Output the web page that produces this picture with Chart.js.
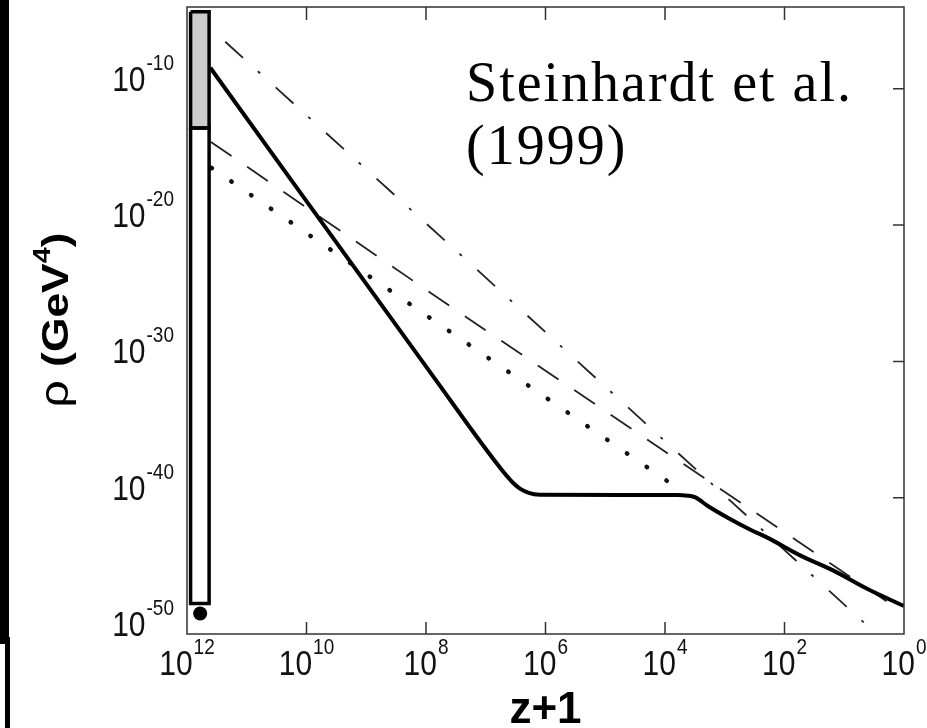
<!DOCTYPE html>
<html lang="en">
<head>
  <meta charset="UTF-8">
  <title>Energy density vs z+1</title>
  <script src="https://cdn.jsdelivr.net/npm/chart.js"></script>
  <style>
    body { margin: 0; background: #fff; }
    .wrap { position: relative; width: 927px; height: 728px; }
    /* black strips on the left edge of the scan */
    .edge1 { position: absolute; left: 0; top: 0; width: 9px; height: 644px; background: #000; }
    .edge2 { position: absolute; left: 5px; top: 637px; width: 5px; height: 91px; background: #000; }
  </style>
</head>
<body>
<div class="wrap">
  <canvas id="rho" width="927" height="728"></canvas>
  <div class="edge1"></div>
  <div class="edge2"></div>
</div>

<script>
  // ---- data, as log10 values: [log10(z+1), log10(rho)]
  const tracker = [
    [11.61, -8.46], [7.88, -31.1], [6.76, -37.8], [6.54, -38.92], [6.42, -39.35],
    [6.28, -39.65], [6.1, -39.78], [3.8, -39.8], [3.62, -39.85], [3.49, -39.98],
    [3.29, -40.59], [2.95, -41.47], [2.57, -42.35], [2.28, -42.95], [1.73, -44.25],
    [1.18, -45.35], [0.61, -46.7], [0, -47.95]
  ];
  const matterLine = [[11.6, -13.9], [7.68, -25.7], [0.09, -48.2]];      // dashed
  const radiationLine = [[11.36, -6.55], [7.54, -21.7], [0.61, -49.4]];  // dash-dot
  const dottedLine = [[11.59, -15.8], [6.84, -30.1], [3.69, -39.6]];     // dotted

  // initial-condition bar on the left edge
  const barX = [11.94, 11.63];
  const barGrayY = [-4.35, -12.87];
  const barWhiteY = [-12.87, -47.77];
  const dotPoint = [[11.78, -48.5]];

  // axis ticks (exponents)
  const xTickExp = [12, 10, 8, 6, 4, 2, 0];
  const yTickExp = [-50, -40, -30, -20, -10];
  const xRange = [0, 12];
  const yRange = [-50, -4];

  const toPts = arr => arr.map(p => ({ x: Math.pow(10, p[0]), y: Math.pow(10, p[1]) }));
  const boxTop = (xs, ys) => [{ x: Math.pow(10, xs[0]), y: Math.pow(10, ys[0]) }, { x: Math.pow(10, xs[1]), y: Math.pow(10, ys[0]) }];
  const boxOutline = (xs, ys) => [
    { x: Math.pow(10, xs[0]), y: Math.pow(10, ys[0]) },
    { x: Math.pow(10, xs[1]), y: Math.pow(10, ys[0]) },
    { x: Math.pow(10, xs[1]), y: Math.pow(10, ys[1]) },
    { x: Math.pow(10, xs[0]), y: Math.pow(10, ys[1]) },
    { x: Math.pow(10, xs[0]), y: Math.pow(10, ys[0]) }
  ];

  const S = 1.15; // the scan is a bit stretched vertically

  function supLabel(ctx, x, y, base, exp, align, baseSize, expSize, rise) {
    ctx.font = baseSize + 'px "Liberation Sans", Arial, sans-serif';
    const wb = ctx.measureText(base).width;
    ctx.font = expSize + 'px "Liberation Sans", Arial, sans-serif';
    const we = ctx.measureText(exp).width;
    const total = wb + we + 1;
    let x0 = x;
    if (align === 'right') x0 = x - total;
    if (align === 'center') x0 = x - total / 2;
    ctx.save();
    ctx.translate(x0, y);
    ctx.scale(1, S);
    ctx.textAlign = 'left';
    ctx.textBaseline = 'alphabetic';
    ctx.font = baseSize + 'px "Liberation Sans", Arial, sans-serif';
    ctx.fillText(base, 0, 0);
    ctx.font = expSize + 'px "Liberation Sans", Arial, sans-serif';
    ctx.fillText(exp, wb + 1, -rise / S);
    ctx.restore();
  }

  const framePlugin = {
    id: 'frame',
    afterDraw(chart) {
      const ctx = chart.ctx;
      const a = chart.chartArea;
      const xs = chart.scales.x, ys = chart.scales.y;
      ctx.save();
      ctx.fillStyle = '#111';
      ctx.strokeStyle = '#333';
      ctx.lineWidth = 1.5;
      ctx.strokeRect(a.left, a.top, a.right - a.left, a.bottom - a.top);

      // inward ticks
      ctx.beginPath();
      xTickExp.forEach(e => {
        const px = xs.getPixelForValue(Math.pow(10, e));
        if (px <= a.left + 1 || px >= a.right - 1) return;
        ctx.moveTo(px, a.bottom); ctx.lineTo(px, a.bottom - 12);
        ctx.moveTo(px, a.top); ctx.lineTo(px, a.top + 13);
      });
      yTickExp.forEach(e => {
        const py = ys.getPixelForValue(Math.pow(10, e));
        if (py >= a.bottom - 1 || py <= a.top + 1) return;
        ctx.moveTo(a.right, py); ctx.lineTo(a.right - 11, py);
      });
      ctx.stroke();

      // tick labels
      xTickExp.forEach(e => {
        const px = xs.getPixelForValue(Math.pow(10, e));
        supLabel(ctx, px, 675, '10', String(e), 'center', 30, 19, 21);
      });
      yTickExp.forEach(e => {
        const py = ys.getPixelForValue(Math.pow(10, e));
        supLabel(ctx, 174, py + 2, '10', String(e), 'right', 30, 19, 21);
      });

      // axis titles
      ctx.fillStyle = '#000';
      ctx.textAlign = 'center';
      ctx.textBaseline = 'alphabetic';
      ctx.font = 'bold 44px "Liberation Sans", Arial, sans-serif';
      ctx.fillText('z+1', (a.left + a.right) / 2, 723);

      ctx.save();
      ctx.translate(68, 320);
      ctx.rotate(-Math.PI / 2);
      ctx.scale(1.2, 1);
      ctx.textAlign = 'left';
      const parts = [
        ['ρ ', '40px "Liberation Sans", Arial, sans-serif', 0],
        ['(GeV', 'bold 37px "Liberation Sans", Arial, sans-serif', 0],
        ['4', 'bold 24px "Liberation Sans", Arial, sans-serif', -18],
        [')', 'bold 37px "Liberation Sans", Arial, sans-serif', 0]
      ];
      let tot = 0;
      parts.forEach(p => { ctx.font = p[1]; tot += ctx.measureText(p[0]).width; });
      let cx = -tot / 2;
      parts.forEach(p => { ctx.font = p[1]; ctx.fillText(p[0], cx, p[2]); cx += ctx.measureText(p[0]).width; });
      ctx.restore();

      // annotation
      ctx.textAlign = 'left';
      ctx.font = '56px "Liberation Serif", "Times New Roman", serif';
      ctx.letterSpacing = '2px';
      ctx.fillText('Steinhardt et al.', 466, 101);
      ctx.fillText('(1999)', 466, 164);
      ctx.restore();
    }
  };

  const ctx = document.getElementById('rho').getContext('2d');
  new Chart(ctx, {
    type: 'line',
    data: {
      datasets: [
        { data: toPts(dotPoint), showLine: false, pointRadius: 7, pointBackgroundColor: '#000', pointBorderWidth: 0 },
        { data: boxOutline(barX, barGrayY), borderColor: '#000', borderWidth: 3.5, pointRadius: 0, fill: false },
        { data: boxOutline(barX, barWhiteY), borderColor: '#000', borderWidth: 3.5, pointRadius: 0, fill: false },
        { data: boxTop(barX, barGrayY), borderWidth: 0, pointRadius: 0, backgroundColor: '#cccccc', fill: { value: Math.pow(10, barGrayY[1]) } },
        { data: boxTop(barX, barWhiteY), borderWidth: 0, pointRadius: 0, backgroundColor: '#ffffff', fill: { value: Math.pow(10, barWhiteY[1]) } },
        { data: toPts(tracker), borderColor: '#000', borderWidth: 4, pointRadius: 0, cubicInterpolationMode: 'monotone', fill: false },
        { data: toPts(matterLine), borderColor: '#222', borderWidth: 1.8, borderDash: [25, 19], pointRadius: 0, fill: false },
        { data: toPts(radiationLine), borderColor: '#222', borderWidth: 1.8, borderDash: [24, 20, 3, 21], pointRadius: 0, fill: false },
        { data: toPts(dottedLine), borderColor: '#111', borderWidth: 4.5, borderDash: [0.5, 23.5], borderCapStyle: 'round', pointRadius: 0, fill: false }
      ]
    },
    options: {
      responsive: false,
      animation: false,
      devicePixelRatio: 1,
      layout: { padding: { left: 187, right: 23, top: 7, bottom: 94 } },
      scales: {
        x: { type: 'logarithmic', reverse: true, min: Math.pow(10, xRange[0]), max: Math.pow(10, xRange[1]), display: false },
        y: { type: 'logarithmic', min: Math.pow(10, yRange[0]), max: Math.pow(10, yRange[1]), display: false }
      },
      plugins: { legend: { display: false }, tooltip: { enabled: false } }
    },
    plugins: [framePlugin]
  });
</script>
</body>
</html>
